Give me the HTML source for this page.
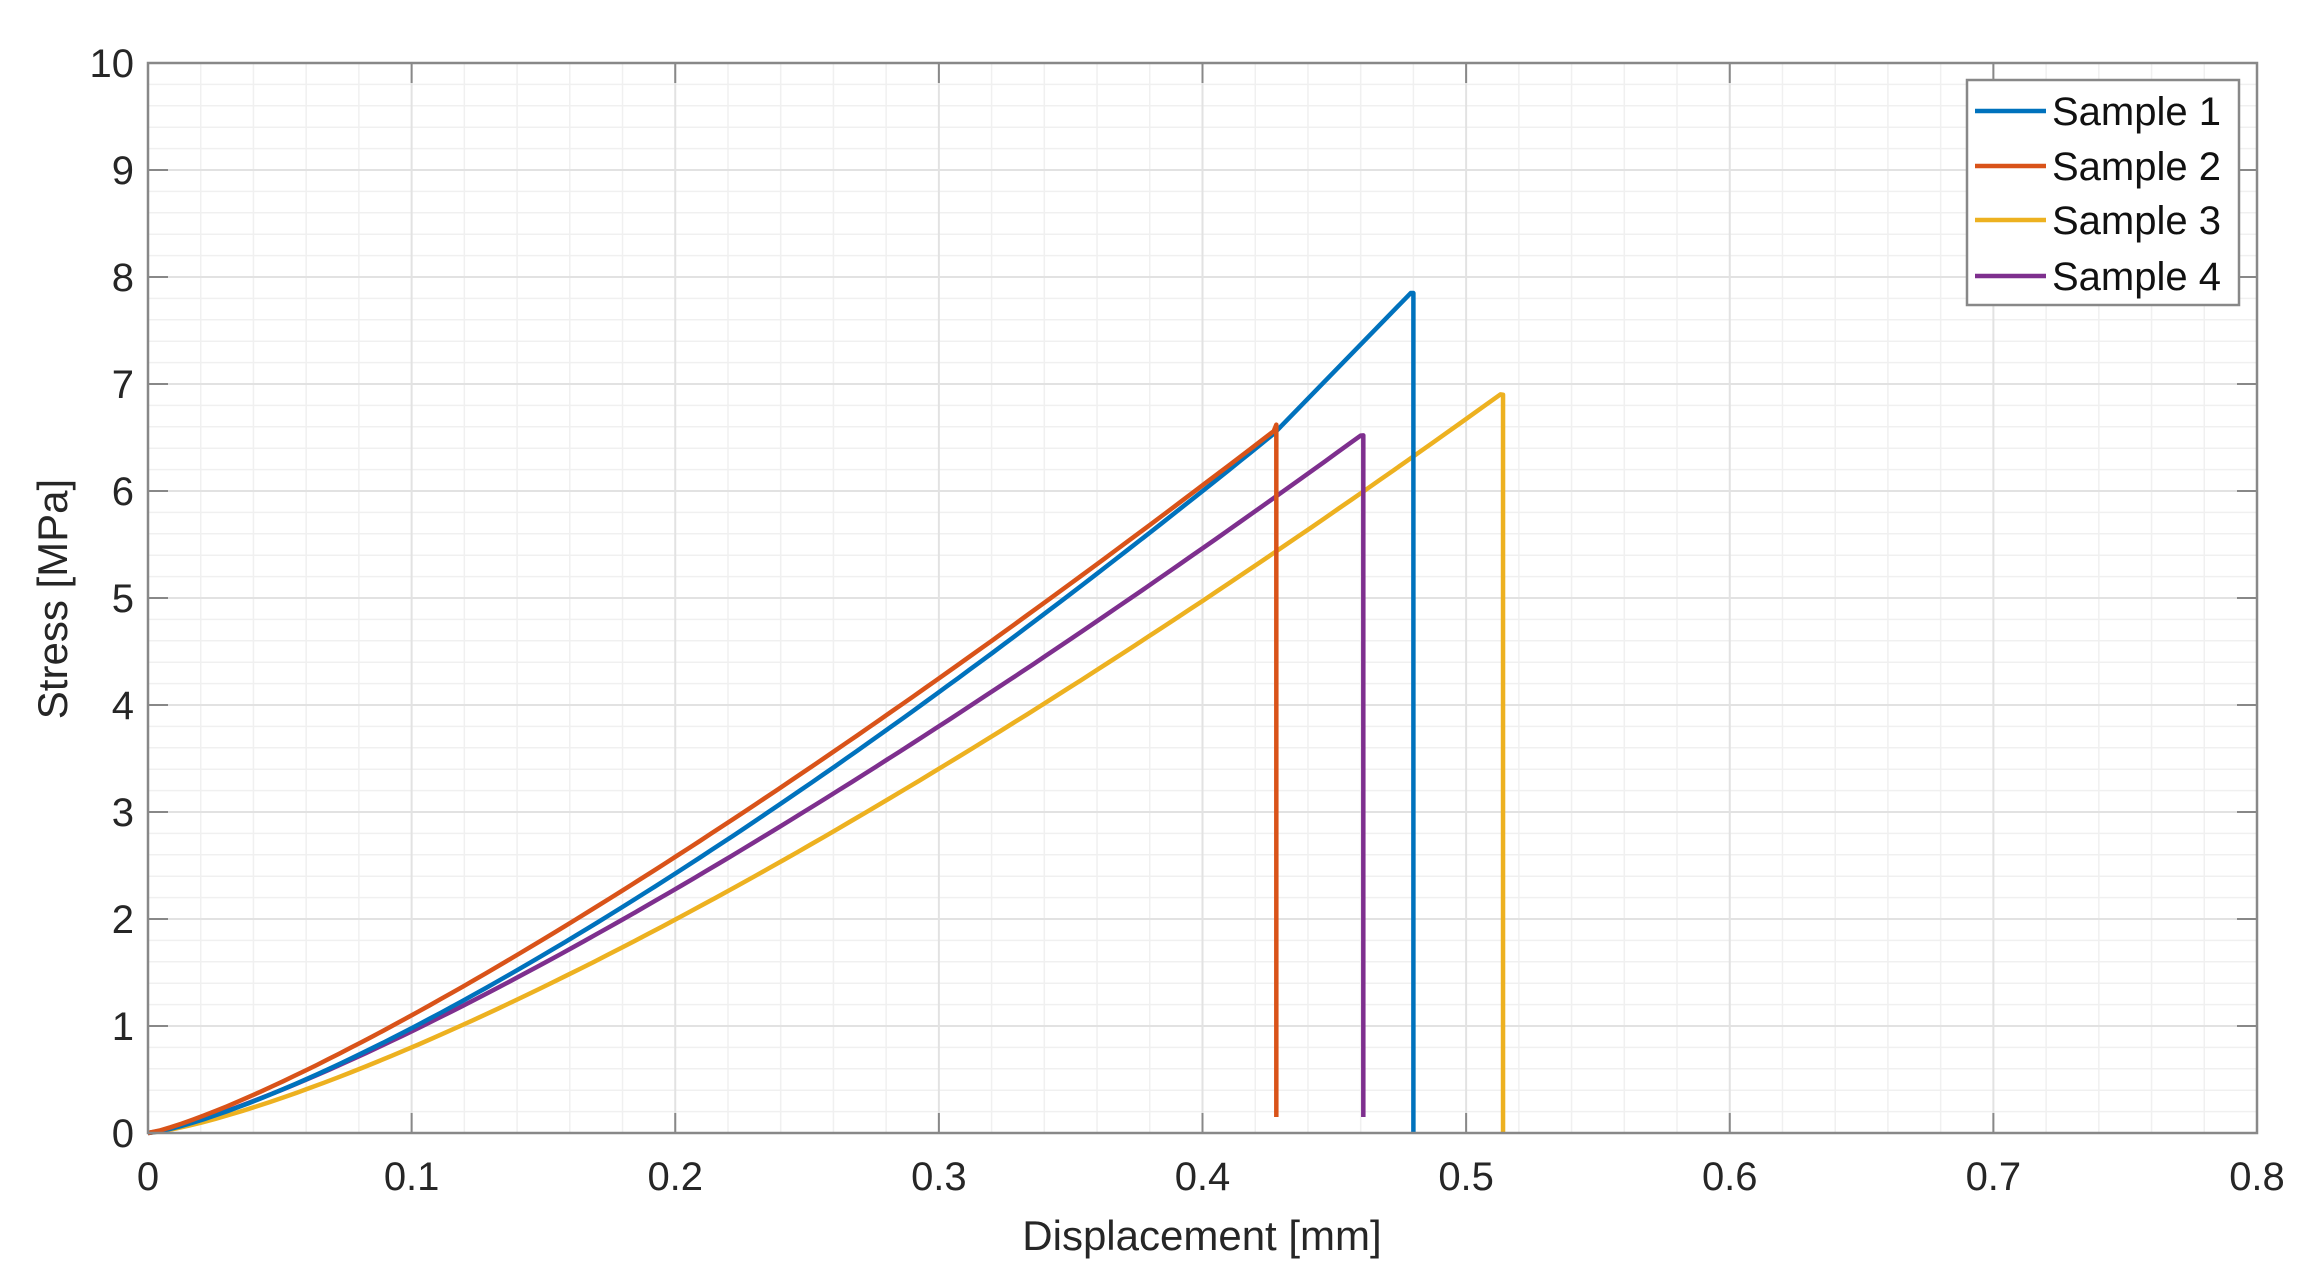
<!DOCTYPE html>
<html><head><meta charset="utf-8"><style>
body{margin:0;background:#fff;}
svg{display:block;font-family:"Liberation Sans",Arial,sans-serif;}
</style></head><body>
<svg id="s" width="2302" height="1288" xmlns="http://www.w3.org/2000/svg"></svg>
<script>
const L=148,R=2257,T=63,B=1133;
const X=v=>L+(R-L)*v/0.8, Y=v=>B-(B-T)*v/10;
let h='<rect width="2302" height="1288" fill="#fff"/>';
for(let i=1;i<40;i++){if(i%5)h+=`<line x1="${X(i*0.02)}" y1="${T}" x2="${X(i*0.02)}" y2="${B}" stroke="#f0f0f0" stroke-width="1.5"/>`;}
for(let i=1;i<50;i++){if(i%5)h+=`<line x1="${L}" y1="${Y(i*0.2)}" x2="${R}" y2="${Y(i*0.2)}" stroke="#f0f0f0" stroke-width="1.5"/>`;}
for(let i=1;i<8;i++)h+=`<line x1="${X(i/10)}" y1="${T}" x2="${X(i/10)}" y2="${B}" stroke="#e2e2e2" stroke-width="2"/>`;
for(let i=1;i<10;i++)h+=`<line x1="${L}" y1="${Y(i)}" x2="${R}" y2="${Y(i)}" stroke="#e2e2e2" stroke-width="2"/>`;
for(let i=0;i<=8;i++){const x=X(i/10);h+=`<line x1="${x}" y1="${B}" x2="${x}" y2="${B-20}" stroke="#888" stroke-width="2"/><line x1="${x}" y1="${T}" x2="${x}" y2="${T+20}" stroke="#888" stroke-width="2"/>`;
h+=`<text x="${x}" y="${B+57}" font-size="40" text-anchor="middle" fill="#262626">${i?(i/10).toString():'0'}</text>`;}
for(let i=0;i<=10;i++){const y=Y(i);h+=`<line x1="${L}" y1="${y}" x2="${L+20}" y2="${y}" stroke="#888" stroke-width="2"/><line x1="${R}" y1="${y}" x2="${R-20}" y2="${y}" stroke="#888" stroke-width="2"/>`;
h+=`<text x="134" y="${y+14}" font-size="40" text-anchor="end" fill="#262626">${i}</text>`;}
function pw(a,p,x0,x1){let d='';for(let k=0;k<=100;k++){const x=x0+(x1-x0)*k/100;const y=a*Math.pow(x/0.1,p);d+=(k?' L':'M')+X(x).toFixed(1)+','+Y(y).toFixed(1);}return d;}
const S=[
["#EDB120",pw(0.8,1.318,0,0.513),0.513,6.9,0],
["#7E2F8E",pw(0.95,1.262,0,0.46),0.46,6.52,0.15],
["#0072BD",pw(0.98,1.307,0,0.427)+` L${X(0.479)},${Y(7.85)}`,0.479,7.85,0],
["#D95319",pw(1.1,1.23,0,0.427),0.427,6.62,0.15]];
for(const [c,d,xe,ye,e] of S){
h+=`<path d="${d} L${X(xe+0.001)},${Y(ye)} L${X(xe+0.001)},${Y(e)}" fill="none" stroke="${c}" stroke-width="4.5" stroke-linejoin="round"/>`;}
h+=`<rect x="${L}" y="${T}" width="${R-L}" height="${B-T}" fill="none" stroke="#888" stroke-width="2.5"/>`;
h+=`<rect x="1967" y="80" width="272" height="225" fill="#fff" stroke="#888" stroke-width="2.5"/>`;
const names=["Sample 1","Sample 2","Sample 3","Sample 4"],cols=["#0072BD","#D95319","#EDB120","#7E2F8E"],ys=[111,166,220,276];
for(let i=0;i<4;i++){h+=`<line x1="1975" y1="${ys[i]}" x2="2046" y2="${ys[i]}" stroke="${cols[i]}" stroke-width="4.5"/><text x="2052" y="${ys[i]+14}" font-size="40" fill="#111">${names[i]}</text>`;}
h+=`<text x="1202" y="1250" font-size="42" text-anchor="middle" fill="#262626">Displacement [mm]</text>`;
h+=`<text transform="translate(67,599) rotate(-90)" font-size="42" text-anchor="middle" fill="#262626">Stress [MPa]</text>`;
document.getElementById('s').innerHTML=h;
</script>
</body></html>
